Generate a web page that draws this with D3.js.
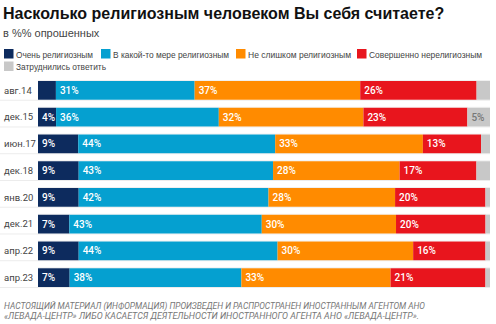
<!DOCTYPE html>
<html>
<head>
<meta charset="utf-8">
<script src="https://cdn.jsdelivr.net/npm/d3@7"></script>
<style>
    body { margin: 0; background: #fff; }
    #chart text { font-family: Roboto, "Liberation Sans", sans-serif; }
</style>
</head>
<body>
<div id="chart"></div>
<script>
var width = 496,
    height = 324,
    margin = {top: 81, right: 6, bottom: 37, left: 38}
;

// Survey waves
var dates = ['авг.14', 'дек.15', 'июн.17', 'дек.18', 'янв.20', 'дек.21', 'апр.22', 'апр.23'];

// Answer categories and their colors
var categories = ['Очень религиозным', 'В какой-то мере религиозным', 'Не слишком религиозным', 'Совершенно нерелигиозным', 'Затруднились ответить'];
var colors = ['#0d2b5e', '#05a0d0', '#ff8b00', '#e8151d', '#c8c8c8'];

// Shares, % of respondents
var veryReligious = [4, 4, 9, 9, 9, 7, 9, 7];
var somewhatReligious = [31, 36, 44, 43, 42, 43, 44, 38];
var notVeryReligious = [37, 32, 33, 28, 28, 30, 30, 33];
var notReligious = [26, 23, 13, 17, 20, 20, 16, 21];
var hardToSay = [3, 5, 2, 3, 1, 1, 1, 1];

// labels that are left off the bars: row-category
var hiddenLabels = ['0-0'];

var series = [veryReligious, somewhatReligious, notVeryReligious, notReligious, hardToSay];

var data = dates.map(function(d, i) {
    var row = {date: d};
    categories.forEach(function(c, j) {
        row[c] = series[j][i];
    });
    return row;
});

var svg = d3
    .select('#chart')
    .append('svg')
    .attr('width', width)
    .attr('height', height)
;

// Title & subtitle
svg.append('text')
    .attr('x', 3)
    .attr('y', 19)
    .style('font-family', '"Liberation Sans", Arial, sans-serif')
    .style('font-weight', 'bold')
    .style('font-size', '16px')
    .attr('fill', '#111')
    .text('Насколько религиозным человеком Вы себя считаете?')
;

svg.append('text')
    .attr('x', 3)
    .attr('y', 37)
    .style('font-family', '"Liberation Sans", Arial, sans-serif')
    .style('font-size', '11px')
    .attr('fill', '#444')
    .text('в %% опрошенных')
;

// Legend (narrow type, squeezed to fit one line)
var legendPos = [[4, 49], [101, 49], [236, 49], [357, 49], [4, 61.5]],
    legendWidth = [77, 116, 103, 113, 90];

var legend = svg.selectAll('.legend')
    .data(categories)
    .enter()
    .append('g')
    .attr('class', 'legend')
    .attr('transform', function(d, i) {
        return 'translate(' + legendPos[i][0] + ',' + legendPos[i][1] + ')';
    })
;

legend.append('rect')
    .attr('width', 9.5)
    .attr('height', 9.5)
    .attr('fill', function(d, i) { return colors[i]; })
;

legend.append('text')
    .attr('x', 12)
    .attr('y', 8.5)
    .style('font-family', '"Liberation Sans", Arial, sans-serif')
    .style('font-size', '9.5px')
    .attr('fill', '#444')
    .attr('textLength', function(d, i) { return legendWidth[i]; })
    .attr('lengthAdjust', 'spacingAndGlyphs')
    .text(function(d) { return d; })
;

// Scales
var x = d3.scaleLinear()
    .domain([0, 1])
    .range([margin.left, width - margin.right]);

var y = d3.scaleBand()
    .domain(dates)
    .range([margin.top, height - margin.bottom])
    .paddingInner(0.3)
    .paddingOuter(0);

var z = d3.scaleOrdinal()
    .domain(categories)
    .range(colors);

var stacked = d3.stack()
    .keys(categories)
    .offset(d3.stackOffsetExpand)(data);

// Row rules
svg.append('g')
    .selectAll('line')
    .data(dates)
    .enter()
    .append('line')
    .attr('x1', 0)
    .attr('x2', x(1))
    .attr('y1', function(d) { return y(d) + y.bandwidth() + 0.5; })
    .attr('y2', function(d) { return y(d) + y.bandwidth() + 0.5; })
    .attr('stroke', '#ececec')
;

svg.append('g')
    .selectAll('line')
    .data(dates)
    .enter()
    .append('line')
    .attr('x1', x(0))
    .attr('x2', x(1))
    .attr('y1', function(d) { return y(d) - 0.5; })
    .attr('y2', function(d) { return y(d) - 0.5; })
    .attr('stroke', '#f0f0f0')
;

// Bars
var layer = svg.selectAll('.layer')
    .data(stacked)
    .enter()
    .append('g')
    .attr('class', 'layer')
    .attr('fill', function(d) { return z(d.key); })
;

layer.selectAll('rect')
    .data(function(d) { return d; })
    .enter()
    .append('rect')
    .attr('x', function(d) { return x(d[0]); })
    .attr('y', function(d) { return y(d.data.date); })
    .attr('width', function(d) { return x(d[1]) - x(d[0]); })
    .attr('height', y.bandwidth())
;

// Value labels
layer.selectAll('.value')
    .data(function(d) {
        var k = categories.indexOf(d.key);
        return d.map(function(p, i) {
            return {k: k, i: i, p: p, v: p.data[d.key]};
        }).filter(function(o) {
            return o.v >= 4 && hiddenLabels.indexOf(o.i + '-' + o.k) < 0;
        });
    })
    .enter()
    .append('text')
    .attr('class', 'value')
    .attr('x', function(d) { return x(d.p[0]) + 4; })
    .attr('y', function(d) { return y(d.p.data.date) + y.bandwidth() / 2; })
    .attr('dy', '0.35em')
    .style('font-size', '10px')
    .style('font-weight', 500)
    .attr('fill', function(d) { return d.k === 4 ? '#777' : '#fff'; })
    .text(function(d) { return d.v + '%'; })
;

// Wave labels
svg.append('g')
    .selectAll('text')
    .data(dates)
    .enter()
    .append('text')
    .attr('x', 4)
    .attr('y', function(d) { return y(d) + y.bandwidth() / 2; })
    .attr('dy', '0.35em')
    .style('font-size', '9.5px')
    .attr('fill', '#444')
    .text(function(d) { return d; })
;

// Footnote
var notes = [
    'НАСТОЯЩИЙ МАТЕРИАЛ (ИНФОРМАЦИЯ) ПРОИЗВЕДЕН И РАСПРОСТРАНЕН ИНОСТРАННЫМ АГЕНТОМ АНО',
    '«ЛЕВАДА-ЦЕНТР» ЛИБО КАСАЕТСЯ ДЕЯТЕЛЬНОСТИ ИНОСТРАННОГО АГЕНТА АНО «ЛЕВАДА-ЦЕНТР».'
];

svg.append('g')
    .selectAll('text')
    .data(notes)
    .enter()
    .append('text')
    .attr('x', 4)
    .attr('y', function(d, i) { return 308.5 + i * 10.5; })
    .style('font-size', '9px')
    .style('font-style', 'italic')
    .attr('fill', '#777')
    .attr('textLength', function(d, i) { return i ? 415 : 421; })
    .attr('lengthAdjust', 'spacingAndGlyphs')
    .text(function(d) { return d; })
;
</script>
</body>
</html>
